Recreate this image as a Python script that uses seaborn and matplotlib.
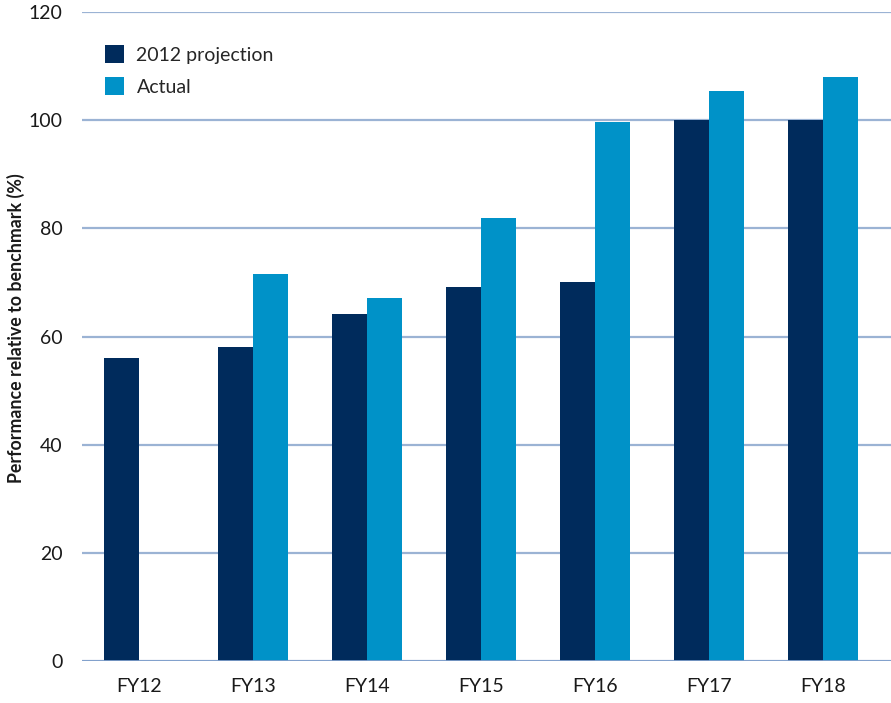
import matplotlib
matplotlib.use("Agg")
import matplotlib.pyplot as plt
import seaborn as sns
import pandas as pd
import numpy as np
from matplotlib.patches import Patch

years = ["FY12", "FY13", "FY14", "FY15", "FY16", "FY17", "FY18"]
projection = [56.0, 58.1, 64.2, 69.2, 70.1, 100.0, 100.0]
actual = [np.nan, 71.6, 67.1, 81.9, 99.7, 105.4, 108.0]
series_names = ["2012 projection", "Actual"]
colors = ["#002b5c", "#0092c8"]

df = pd.DataFrame({
    "year": years * 2,
    "value": projection + actual,
    "series": [series_names[0]] * len(years) + [series_names[1]] * len(years),
})

sns.set_theme(style="white")
plt.rcParams["font.family"] = ["Lato", "DejaVu Sans"]

W, H = 891, 703
fig = plt.figure(figsize=(W / 100, H / 100), dpi=100)
ax = fig.add_axes([82 / W, 42 / H, 1 - 82 / W, 649 / H])

sns.barplot(data=df, x="year", y="value", hue="series", palette=colors,
            width=0.615, gap=0, saturation=1, linewidth=0, edgecolor="none",
            ax=ax, legend=False, zorder=3)

ax.set_ylim(0, 120)
ax.set_xlim(-0.5, 6.6)
ax.set_yticks(range(0, 121, 20))
ax.yaxis.grid(True, color="#9bb3d4", linewidth=1.6, zorder=0)
ax.axhline(0, color="#7f9fcc", linewidth=2, zorder=4)
for s in ax.spines.values():
    s.set_visible(False)
ax.tick_params(axis="both", length=0, labelsize=14, colors="#1a1a1a")
ax.tick_params(axis="y", pad=14)
ax.tick_params(axis="x", pad=12)
ax.set_xlabel("")
ax.set_ylabel("")
fig.text(16 / W, 1 - 328 / H, "Performance relative to benchmark (%)",
         rotation=90, ha="center", va="center", fontsize=12.8,
         fontweight="bold", color="#1a1a1a")

handles = [Patch(facecolor=c, edgecolor="none") for c in colors]
ax.legend(handles, series_names, loc="upper left", bbox_to_anchor=(0.0, 0.985),
          frameon=False, fontsize=14, handlelength=0.95, handleheight=1.05,
          handletextpad=0.65, labelspacing=0.7, borderaxespad=0.8)

fig.savefig("out.png", dpi=100)
